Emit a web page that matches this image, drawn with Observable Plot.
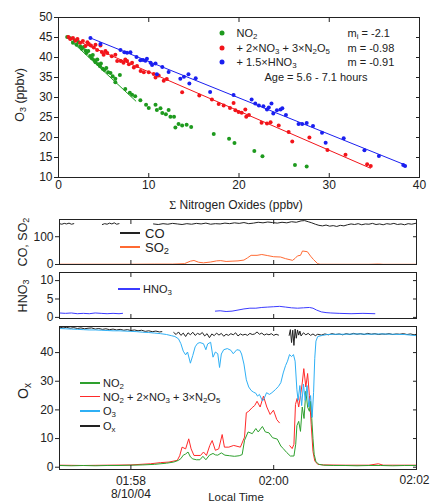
<!DOCTYPE html>
<html><head><meta charset="utf-8">
<script src="https://cdn.jsdelivr.net/npm/d3@7"></script>
<script src="https://cdn.jsdelivr.net/npm/@observablehq/plot@0.6"></script>
<style>
body{margin:0;background:#fff;font-family:"Liberation Sans",Arial,sans-serif;color:#222}
#wrap{position:relative;width:430px;height:504px;overflow:hidden;background:#fff}
#wrap svg{position:absolute;left:0}
.t{position:absolute;white-space:nowrap;line-height:1;color:#222}
.t sub{font-size:0.72em;vertical-align:-0.3em;line-height:0}
.ln{position:absolute;height:1.5px}
.dt{position:absolute;width:5px;height:5px;border-radius:50%;transform:translate(-50%,-50%)}
</style></head><body><div id="wrap"></div>
<script>
// ---------------- scatter data ----------------
const scatterXTicks = [0,10,20,30,40];
const scatterYTicks = [10,15,20,25,30,35,40,45,50];
const seriesColors = ["#1e9a1e","#f2141a","#1a1ff0"];
const fitSlope = [-2.1,-0.98,-0.91];
const fitIntercept = [47.1,46.2,48.1];
const fitFrom = [1.0,1.1,3.5];
const fitTo = [8.6,34.6,38.4];
const no2Pts = [[0.96,45.1],[1.3,44.8],[1.6,43.7],[1.8,44.3],[2.0,43.2],[2.2,43.9],[2.4,42.8],[2.6,42.2],[2.8,42.6],[3.0,41.7],[3.1,41.1],[3.3,41.6],[3.5,40.4],[3.7,39.8],[3.8,40.6],[4.0,39.3],[4.1,38.8],[4.3,39.5],[4.4,38.3],[4.6,37.8],[4.7,38.5],[4.9,37.2],[5.1,36.9],[5.3,37.4],[5.5,36.3],[5.76,36.1],[6.0,35.3],[6.3,34.7],[6.3,33.8],[6.8,35.6],[7.4,32.1],[7.9,31.2],[8.15,30.7],[8.5,30.3],[9.07,29.3],[9.7,28.2],[10.0,27.4],[10.75,28.2],[10.9,26.9],[11.3,27.3],[11.5,26.1],[11.9,25.8],[12.2,26.9],[12.4,25.2],[12.8,25.2],[12.95,22.5],[13.3,23.4],[13.7,23.0],[14.2,23.2],[14.7,22.6],[17.2,20.9],[18.9,19.7],[19.5,18.6],[21.7,16.6],[22.6,15.3],[26.2,13.1],[27.5,12.75]];
const noxPts = [[1.1,45.1],[1.3,44.6],[1.6,44.9],[1.88,44.2],[2.1,44.6],[2.4,43.7],[2.7,44.1],[2.99,42.9],[3.2,43.8],[3.36,43.4],[3.6,43.0],[3.91,42.5],[4.1,43.2],[4.28,41.9],[4.65,43.0],[4.8,41.4],[5.0,40.7],[5.2,41.6],[5.4,41.1],[5.9,40.3],[6.3,40.7],[6.5,39.1],[6.9,39.1],[7.2,38.7],[7.4,39.5],[7.6,39.1],[7.8,38.3],[8.15,38.7],[8.35,37.5],[8.7,37.9],[9.1,36.6],[9.45,36.3],[10.0,36.3],[10.55,35.9],[10.75,35.0],[11.1,35.5],[11.66,34.2],[12.0,34.6],[13.7,31.3],[15.6,30.5],[17.0,29.5],[17.75,28.4],[18.3,28.0],[19.0,27.4],[19.4,28.6],[19.6,26.8],[19.95,26.4],[20.3,26.2],[20.7,27.0],[20.8,25.2],[21.1,25.6],[22.5,23.7],[23.1,23.5],[23.5,23.8],[24.4,23.0],[25.5,21.4],[25.9,19.0],[27.8,20.0],[29.8,16.9],[31.8,15.7],[34.2,13.3],[34.6,12.9]];
const noyPts = [[3.54,44.9],[4.65,43.4],[6.87,41.9],[7.3,41.3],[7.6,41.2],[7.97,41.3],[8.64,40.1],[9.07,39.3],[9.37,39.4],[9.63,39.2],[9.8,39.7],[10.2,38.7],[10.37,38.1],[10.75,38.5],[10.9,35.8],[11.5,37.6],[12.2,36.4],[13.5,34.7],[13.9,35.2],[14.4,35.8],[14.5,33.5],[15.2,34.8],[16.8,31.4],[19.4,30.6],[21.4,29.5],[21.8,28.5],[22.2,28.0],[22.7,27.8],[23.1,27.0],[23.3,27.5],[23.6,28.5],[23.8,26.0],[24.2,26.8],[24.6,27.0],[24.8,27.3],[25.2,25.6],[26.6,23.4],[27.0,23.4],[27.5,23.6],[28.2,22.9],[29.2,21.2],[29.6,18.7],[31.6,19.8],[33.9,16.8],[35.5,15.4],[38.2,13.1],[38.4,12.9]];

// ---------------- time-series data (seconds after 01:57:00, value) ----------------
const timeTickLabels = ["01:58","02:00","02:02"];
const dateLabel = "8/10/04";
const coTicks = [0,100];
const hno3Ticks = [0,5,10];
const oxTicks = [0,10,20,30,40];
const coSeries = [[0,147],[2,145],[4,148],[6,146],[8,149],[10,145],[12,147],[13,null],[36,144],[38,147],[40,145],[42,149],[44,146],[46,150],[48,145],[50,147],[51,null],
[79,146],[83,144],[87,147],[91,145],[95,148],[99,146],[103,144],[107,147],[111,145],[115,148],[119,146],[123,149],[127,145],[131,147],[135,146],[139,149],[143,147],[147,150],[151,148],[155,151],[159,147],[163,149],[167,152],[171,150],[175,153],[179,151],[183,149],[187,152],[191,150],[195,154],[199,152],[203,157],[206,158],[209,154],[212,150],[215,145],[218,141],[221,139],[224,142],[227,138],[230,140],[233,137],[236,141],[239,139],[242,143],[245,146],[248,144],[251,147],[254,143],[257,146],[260,145],[263,148],[266,144],[269,146],[272,143],[275,147],[278,145],[281,148],[284,144],[287,146],[290,143],[293,147],[296,145],[300,149]];
const so2Series = [[0,1],[20,1],[40,1],[60,1],[80,1.5],[95,1.5],[105,3],[110,12],[113,14.5],[117,8],[121,6],[127,9],[132,13],[135.5,14],[140,11],[145,12],[150,13],[155,16],[158,24],[161,33],[166,33],[170,36],[175,32],[180,28],[185.7,27],[190,21],[195.8,15],[198,22],[200,31],[202.5,33],[204.2,48.7],[208.3,46],[211,30],[213.4,18],[217,3],[219,0.8],[240,0.7],[260,0.7],[268,1.8],[272,0.7],[300,0.7]];
const hno3Series = [[0,1.2],[5,1.1],[10,1.2],[15,1.0],[20,1.1],[25,1.0],[30,1.2],[35,1.1],[40,1.0],[45,1.1],[50,1.0],[53,1.1],[54,null],
[131,1.7],[135,1.8],[140,1.6],[145,1.7],[150,2.0],[155,2.3],[160,2.5],[165,2.5],[170,2.7],[175,2.8],[180,2.9],[185,3.0],[190,2.8],[195,2.6],[200,2.5],[205,2.6],[210,2.7],[213,2.5],[216,2.0],[220,1.5],[224,1.3],[228,1.2],[235,1.1],[245,1.0],[255,1.1],[265,1.0]];
const oxSeries = [[0,48.9],[3,48.6],[6,48.8],[9,48.5],[12,48.7],[15,48.4],[18,48.6],[21,48.3],[24,48.5],[27,48.6],[30,48.2],[33,48.4],[36,48.1],[39,48.3],[42,48.0],[45,48.2],[48,47.9],[51,48.1],[54,47.8],[57,48.0],[60,47.7],[63,47.9],[66,47.6],[69,47.8],[72,47.4],[75,47.6],[78,47.3],[81,47.5],[84,47.2],[86,47.3],[87,null],
[96,47.0],[98,46.3],[100,47.2],[102,46.0],[104,46.8],[106,45.6],[108,46.9],[110,46.2],[112,47.1],[114,46.0],[116,46.7],[118,46.3],[120,47.0],[122,45.8],[124,46.6],[126,45.2],[128,46.5],[130,45.9],[132,46.8],[134,46.1],[136,46.7],[138,45.7],[140,46.4],[142,46.0],[144,46.6],[146,46.2],[148,46.9],[150,45.8],[152,46.5],[154,46.1],[156,46.4],[158,46.0],[160,46.7],[162,46.3],[164,46.5],[166,47.2],[168,46.4],[170,46.8],[172,46.1],[174,46.5],[176,46.2],[178,46.6],[180,46.0],[182,46.4],[184,46.1],[185,null],
[193,46.0],[194,48.0],[195,43.5],[196,47.8],[197,42.5],[198,48.2],[199,45.0],[200,47.9],[201,46.1],[202,47.5],[203,45.8],[205,46.9],[207,46.2],[209,46.7],[211,46.0],[213,46.5],[215,45.9],[217,46.4],[220,46.1],[223,46.5],[226,46.2],[229,46.6],[232,46.3],[235,46.5],[238,46.2],[241,46.6],[244,46.3],[247,46.7],[250,46.4],[253,46.6],[256,46.3],[259,46.7],[262,46.4],[265,46.6],[268,46.3],[271,46.5],[274,46.4],[277,46.6],[280,46.3],[283,46.5],[286,46.4],[289,46.6],[292,46.3],[295,46.5],[298,46.2],[300,46.4]];
const o3Series = [[0,48.4],[5,48.3],[10,48.2],[15,48.1],[20,48.0],[25,47.9],[30,47.9],[35,47.8],[40,47.7],[45,47.6],[50,47.6],[55,47.5],[60,47.4],[65,47.3],[70,47.1],[75,47.0],[80,46.8],[85,46.6],[90,46.3],[94,45.9],[97,45.6],[100,44.8],[102,43.1],[104,40.5],[106,39.2],[107.6,40.2],[110,36.3],[112,39.0],[114,42.0],[116,43.2],[118,43.5],[121,43.1],[123,41.0],[124.5,43.0],[127,43.6],[129,38.4],[131,40.2],[133,39.6],[134.5,34.8],[136,39.5],[138,41.0],[141,41.4],[144,40.8],[146,39.6],[149,41.0],[151.5,40.8],[153,39.5],[155,36.0],[157,30.5],[159,28.0],[161,26.8],[163,26.2],[165,25.8],[166.4,24.8],[168,25.4],[170.6,23.1],[172,24.0],[174,26.0],[176.4,25.4],[178.5,26.0],[181.5,27.1],[184,28.2],[186,29.5],[188,32.9],[190,35.5],[191.6,37.0],[193.3,39.3],[195,38.6],[196.6,39.3],[198,37.0],[199.5,27],[200.5,23.3],[202,28.5],[203.5,21.5],[205,29],[206.5,23.3],[208,28.5],[209.5,21],[211,25],[212.3,17.4],[213.5,26],[214.5,38],[215.5,44],[217,45.6],[221,46.0],[225,46.3],[230,46.4],[240,46.4],[250,46.5],[260,46.4],[270,46.5],[280,46.4],[290,46.3],[300,45.9]];
const no2Series = [[0,0.6],[10,0.5],[20,0.6],[30,0.5],[40,0.6],[50,0.6],[60,0.7],[70,0.8],[80,1.0],[90,1.4],[96,1.8],[100,2.4],[102,3.0],[104,4.2],[106,4.6],[108,5.3],[110,3.6],[112,2.9],[115,2.6],[118,2.6],[120.5,3.8],[123,2.6],[126,4.2],[129,4.8],[131,4.3],[133,4.2],[136,5.0],[139,4.2],[143,4.0],[147,3.8],[151,4.0],[153.5,4.4],[155.5,9.4],[158.5,12.3],[162,11.7],[165,13.5],[167,12.3],[170.5,14.2],[173,12.3],[176,12.0],[179,10.3],[183,9.8],[186,7.4],[188,6.5],[191,5.1],[194,3.9],[197,3.9],[198.5,8],[199.5,14.5],[201,16],[202.5,12.5],[204,21],[205.5,17],[207,26.5],[208.5,21],[210,19.5],[211,23],[212,17],[213,10],[214,4.5],[215.5,1.9],[218,1.0],[222,0.7],[230,0.6],[240,0.6],[250,0.5],[260,0.6],[270,0.6],[280,0.5],[290,0.6],[300,0.6]];
const noxSeries = [[0,0.7],[20,0.6],[40,0.7],[60,0.8],[76.5,1.2],[85,1.6],[92,1.8],[99,2.4],[101,4.0],[103,7.0],[106,6.4],[108.6,9.9],[110.6,6.4],[113,4.1],[118.5,4.1],[121,5.3],[123.5,4.1],[126.3,7.6],[128.3,9.3],[131,5.9],[133.8,6.4],[136.7,11.4],[138.6,7.0],[142.3,7.0],[146.4,7.6],[152,7.0],[155.5,10.5],[157,19.0],[159,19.5],[161.9,20.8],[164,21.5],[166,23],[168.6,21],[171.4,24.8],[174.2,21],[177,18.4],[179.8,19.9],[182.6,16.6],[184.8,15.5],[185.5,null],[193.5,7.5],[195.5,6.5],[197,8],[198.3,21.9],[199.7,24],[201,21],[202.5,25],[204,29.4],[205.3,34.4],[207,28],[208.5,32.7],[210,25],[211.5,15],[213,5.5],[214.5,2.2],[217,1.0],[222,0.8],[240,0.7],[260,0.7],[268,1.2],[272,0.7],[300,0.7]];

// ---------------- helpers ----------------
const wrap = document.getElementById("wrap");
const FONT = '"Liberation Sans", Arial, sans-serif';
const INK = "#222";
const base = Date.UTC(2004,7,10,1,57,0);
const T = s => new Date(base + s*1000);
const ts = pairs => pairs.map(([s,v]) => ({t: T(s), v}));
const parseT = d3.utcParse("%Y-%m-%d %H:%M");
const timeTicks = timeTickLabels.map(l => parseT("2004-08-10 " + l));
const fmtT = d3.utcFormat("%H:%M");
const tDomain = [T(0), T(300)];

function addSvg(svg, top){ svg.style.top = top + "px"; wrap.appendChild(svg); }
function label(html, x, y, o = {}) {
  const d = document.createElement("div");
  d.className = "t";
  d.innerHTML = html;
  d.style.left = x + "px"; d.style.top = y + "px";
  d.style.fontSize = (o.size || 11) + "px";
  if (o.color) d.style.color = o.color;
  const ax = o.rotate ? "-50%" : o.anchor === "middle" ? "-50%" : o.anchor === "end" ? "-100%" : "0";
  d.style.transform = `translate(${ax},-50%)` + (o.rotate ? " rotate(-90deg)" : "");
  wrap.appendChild(d);
}
function lineSample(x1, x2, y, color){
  const d = document.createElement("div");
  d.className = "ln";
  d.style.left = x1 + "px"; d.style.width = (x2 - x1) + "px"; d.style.top = (y - 0.75) + "px";
  d.style.background = color; wrap.appendChild(d);
}
function dotSample(x, y, color){
  const d = document.createElement("div");
  d.className = "dt"; d.style.left = x + "px"; d.style.top = y + "px"; d.style.background = color;
  wrap.appendChild(d);
}
const style = {background: "transparent", fontFamily: FONT, fontSize: "11px", color: INK, overflow: "visible"};

function yAxes(ticks, size){
  return [
    Plot.axisY(ticks, {anchor: "left", tickSize: 4, tickPadding: 2, label: null, fontSize: size, stroke: INK}),
    Plot.axisY(ticks, {anchor: "right", tickSize: 4, dx: -4, tickFormat: () => "", label: null, stroke: INK})
  ];
}
function xInward(ticks){
  return [
    Plot.axisX(ticks, {anchor: "bottom", tickSize: 4, dy: -4, tickFormat: () => "", label: null, stroke: INK}),
    Plot.axisX(ticks, {anchor: "top", tickSize: 4, dy: 4, tickFormat: () => "", label: null, stroke: INK})
  ];
}

// ---------------- panel 1: scatter ----------------
const scatterSets = [no2Pts, noxPts, noyPts];
const scatterMarks = [];
scatterSets.forEach((pts, i) => {
  const fit = [{x1: fitFrom[i], y1: fitIntercept[i] + fitSlope[i]*fitFrom[i], x2: fitTo[i], y2: fitIntercept[i] + fitSlope[i]*fitTo[i]}];
  scatterMarks.push(Plot.link(fit, {x1: "x1", y1: "y1", x2: "x2", y2: "y2", stroke: seriesColors[i], strokeWidth: 1}));
});
scatterSets.forEach((pts, i) => {
  scatterMarks.push(Plot.dot(pts, {x: d => d[0], y: d => d[1], r: 2, fill: seriesColors[i], stroke: "none"}));
});
addSvg(Plot.plot({
  width: 430, height: 196, marginLeft: 58, marginRight: 11, marginTop: 17, marginBottom: 19, style,
  x: {domain: [0, 40]}, y: {domain: [10, 50]},
  marks: [
    ...scatterMarks,
    ...yAxes(scatterYTicks, 12),
    ...xInward(scatterXTicks),
    Plot.axisX(scatterXTicks, {anchor: "bottom", tickSize: 0, tickPadding: 3, label: null, fontSize: 12}),
    Plot.frame({stroke: INK})
  ]
}), 0);

// ---------------- panel 2: CO, SO2 ----------------
addSvg(Plot.plot({
  width: 430, height: 57, marginLeft: 59, marginRight: 14, marginTop: 7, marginBottom: 5, style,
  x: {type: "utc", domain: tDomain}, y: {domain: [0, 162]},
  marks: [
    Plot.line(ts(so2Series), {x: "t", y: "v", stroke: "#ff6a33", strokeWidth: 1, clip: true}),
    Plot.line(ts(coSeries), {x: "t", y: "v", stroke: "#222", strokeWidth: 1, clip: true}),
    ...yAxes(coTicks, 12),
    ...xInward(timeTicks),
    Plot.frame({stroke: INK})
  ]
}), 212);

// ---------------- panel 3: HNO3 ----------------
addSvg(Plot.plot({
  width: 430, height: 56, marginLeft: 59, marginRight: 14, marginTop: 6, marginBottom: 4, style,
  x: {type: "utc", domain: tDomain}, y: {domain: [-0.3, 12.2]},
  marks: [
    Plot.line(ts(hno3Series), {x: "t", y: "v", stroke: "#3b3bff", strokeWidth: 1, clip: true}),
    ...yAxes(hno3Ticks, 12),
    ...xInward(timeTicks),
    Plot.frame({stroke: INK})
  ]
}), 266);

// ---------------- panel 4: Ox ----------------
addSvg(Plot.plot({
  width: 430, height: 184, marginLeft: 59, marginRight: 14, marginTop: 6, marginBottom: 35, style,
  x: {type: "utc", domain: tDomain}, y: {domain: [-0.8, 49.1]},
  marks: [
    Plot.line(ts(oxSeries), {x: "t", y: "v", stroke: "#222", strokeWidth: 1, clip: true}),
    Plot.line(ts(noxSeries), {x: "t", y: "v", stroke: "#ff2a2a", strokeWidth: 1, clip: true}),
    Plot.line(ts(no2Series), {x: "t", y: "v", stroke: "#2ea02e", strokeWidth: 1, clip: true}),
    Plot.line(ts(o3Series), {x: "t", y: "v", stroke: "#2fb0f5", strokeWidth: 1, clip: true}),
    ...yAxes(oxTicks, 12),
    ...xInward(timeTicks),
    Plot.axisX(timeTicks.slice(0, 2), {anchor: "bottom", tickSize: 0, tickPadding: 6, label: null, fontSize: 12, lineHeight: 1.12,
      tickFormat: (d, i) => i === 0 ? fmtT(d) + "\n" + dateLabel : fmtT(d)}),
    Plot.axisX(timeTicks.slice(2), {anchor: "bottom", tickSize: 0, tickPadding: 6, label: null, fontSize: 12,
      textAnchor: "end", dx: 13, tickFormat: fmtT}),
    Plot.frame({stroke: INK})
  ]
}), 320);

// ---------------- text: titles, legends ----------------
label("O<sub>3</sub> (ppbv)", 20, 95, {rotate: true, size: 12.5});
label('<span style="font-family:\'Liberation Serif\',serif">&Sigma;</span> Nitrogen Oxides (ppbv)', 236, 205, {anchor: "middle", size: 12});
label("CO, SO<sub>2</sub>", 23, 242, {rotate: true, size: 12.5});
label("HNO<sub>3</sub>", 23, 296, {rotate: true, size: 12.5});
label("O<sub>x</sub>", 23, 391, {rotate: true, size: 14});
label("Local Time", 236, 497.5, {anchor: "middle", size: 11.5});

// scatter legend
const scatterLegend = ["NO<sub>2</sub>", "+ 2&times;NO<sub>3</sub> + 3&times;N<sub>2</sub>O<sub>5</sub>", "+ 1.5&times;HNO<sub>3</sub>"];
const slopeLabels = ["m<sub>i</sub> = -2.1", "m = -0.98", "m = -0.91"];
[33, 47.7, 62.3].forEach((y, i) => {
  dotSample(222, y, seriesColors[i]);
  label(scatterLegend[i], 236.5, y, {size: 11});
  label(slopeLabels[i], 347.5, y, {size: 11});
});
label("Age = 5.6 - 7.1 hours", 316, 77, {anchor: "middle", size: 11});

// CO / SO2 legend
lineSample(120, 140, 233, "#222"); label("CO", 145, 233, {size: 13});
lineSample(120, 140, 247, "#ff6a33"); label("SO<sub>2</sub>", 145, 247, {size: 13});
// HNO3 legend
lineSample(118, 140, 289, "#3b3bff"); label("HNO<sub>3</sub>", 143, 289, {size: 11});
// Ox legend
const oxLegend = [["NO<sub>2</sub>", "#2ea02e"], ["NO<sub>2</sub> + 2&times;NO<sub>3</sub> + 3&times;N<sub>2</sub>O<sub>5</sub>", "#ff2a2a"], ["O<sub>3</sub>", "#2fb0f5"], ["O<sub>x</sub>", "#222"]];
[383, 396.5, 411, 426].forEach((y, i) => {
  lineSample(80, 100, y, oxLegend[i][1]);
  label(oxLegend[i][0], 103, y, {size: 11});
});
</script></body></html>
